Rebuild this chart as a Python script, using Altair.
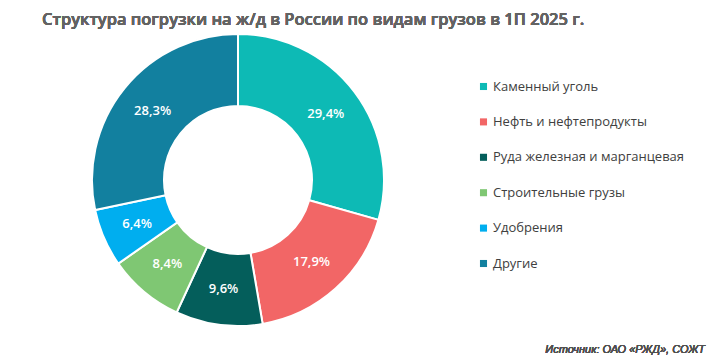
import altair as alt
import pandas as pd

title_text = "Структура погрузки на ж/д в России по видам грузов в 1П 2025 г."
source_text = "Источник: ОАО «РЖД», СОЖТ"
categories = ["Каменный уголь", "Нефть и нефтепродукты", "Руда железная и марганцевая",
              "Строительные грузы", "Удобрения", "Другие"]
values = [29.4, 17.9, 9.6, 8.4, 6.4, 28.3]
labels = ["29,4%", "17,9%", "9,6%", "8,4%", "6,4%", "28,3%"]
colors = ["#0DBAB5", "#F26666", "#045E5B", "#7FC773", "#00AEEF", "#12809F"]

df = pd.DataFrame({
    "cat": categories,
    "val": values,
    "lab": labels,
    "ord": list(range(len(categories))),
})

PT = 30
cx, cy = 238 - 8, 180 - 8 - PT

base = alt.Chart(df).encode(
    theta=alt.Theta("val:Q", stack=True),
    order=alt.Order("ord:Q"),
)

arcs = base.mark_arc(innerRadius=74, outerRadius=146, stroke="white", strokeWidth=2).encode(
    x=alt.value(cx), y=alt.value(cy),
    color=alt.Color("cat:N", sort=categories,
                    scale=alt.Scale(domain=categories, range=colors),
                    legend=alt.Legend(orient="none", legendX=469, legendY=42, title=None,
                                      symbolType="square", symbolSize=50, symbolStrokeWidth=0,
                                      labelFontSize=13, labelFont="Open Sans", labelColor="#404040",
                                      rowPadding=21.4, labelOffset=3, labelLimit=300)),
)

text = base.mark_text(radius=110, fontSize=13, font="Open Sans", fontWeight=600,
                      color="white").encode(
    x=alt.value(cx), y=alt.value(cy),
    text="lab:N",
)

title = alt.Chart(df).mark_text(text=title_text, align="left", baseline="alphabetic",
                                fontSize=16.5, font="Open Sans", fontWeight=600,
                                color="#636363").encode(
    x=alt.value(42 - 8), y=alt.value(25 - 8 - PT))

source = alt.Chart(df).mark_text(text=source_text, align="right", fontStyle="italic",
                                 baseline="alphabetic", fontSize=11, font="Liberation Sans",
                                 fontWeight="normal", color="#505050").encode(
    x=alt.value(705 - 8), y=alt.value(345 - PT))

chart = alt.layer(arcs, text, title, source).properties(
    width=699, height=347 - PT,
    autosize=alt.AutoSizeParams(type="none"),
    padding={"left": 0, "top": PT, "right": 0, "bottom": 0},
).configure_view(stroke=None)

chart.save("out.html", embed_options={"renderer": "svg", "actions": False})
